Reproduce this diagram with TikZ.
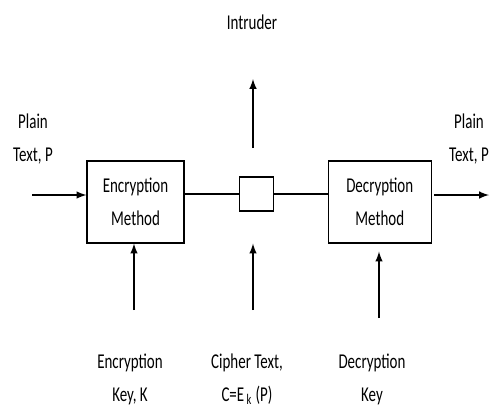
\documentclass[tikz,border=0pt]{standalone}
\usepackage{fontspec}
\setmainfont{Carlito}[FakeStretch=0.71]
\usetikzlibrary{positioning}

\begin{document}
\begin{tikzpicture}[every node/.style={font=\fontsize{15}{23.5}\selectfont,align=center},
		  block/.style={draw,line width=0.8pt,minimum height=2.05cm,inner sep=0pt},
		  flow/.style={-latex,line width=1.4pt},node distance=1.35cm]
		  \useasboundingbox (0,0) rectangle (12.25,10.175);
		  \node[block,minimum width=2.425cm]                        (EncMethod) at (3.3875,5.125) {Encryption\\Method};
		  \node[block,right=of EncMethod,yshift=0.2cm,minimum size=0.85cm]  (Tap)       {};
		  \node[block,right=of Tap,yshift=-0.2cm,minimum width=2.575cm]     (DecMethod) {Decryption\\Method};

		  \node (PlainIn)   at (0.825,6.7)  {Plain\\Text, P};
		  \node (PlainOut)  at (11.725,6.7) {Plain\\Text, P};
		  \node (Intruder)  at (6.3,9.625)  {Intruder};
		  \node (EncKey)    at (3.25,0.7)   {Encryption\\Key, K};
		  \node (CipherTxt) at (6.175,0.7)  {Cipher Text,\\C=E\textsubscript{\,k}\,(P)};
		  \node (DecKey)    at (9.3,0.7)    {Decryption\\Key};

		  \coordinate (pin)   at (0.8,5.3);
		  \coordinate (pout)  at (10.85,5.3);
		  \coordinate (pend)  at (12.225,5.3);
		  \coordinate (tapup) at (6.325,6.475);
		  \coordinate (spy)   at (6.325,8.2);
		  \coordinate (kin)   at (3.35,2.425);
		  \coordinate (cin)   at (6.325,2.425);
		  \coordinate (din)   at (9.475,2.225);

		  \draw[line width=0.8pt] (EncMethod.east |- Tap.west) -- (Tap.west)
		                          (Tap.east) -- (DecMethod.west |- Tap.east);
		  \path[flow] (pin)   edge (pin -| EncMethod.west)
		              (pout)  edge (pend)
		              (tapup) edge (spy)
		              (kin)   edge (kin |- EncMethod.south)
		              (cin)   edge (cin |- EncMethod.south)
		              (din)   edge ([yshift=-0.2cm]din |- DecMethod.south);
	  \end{tikzpicture}
\end{document}
